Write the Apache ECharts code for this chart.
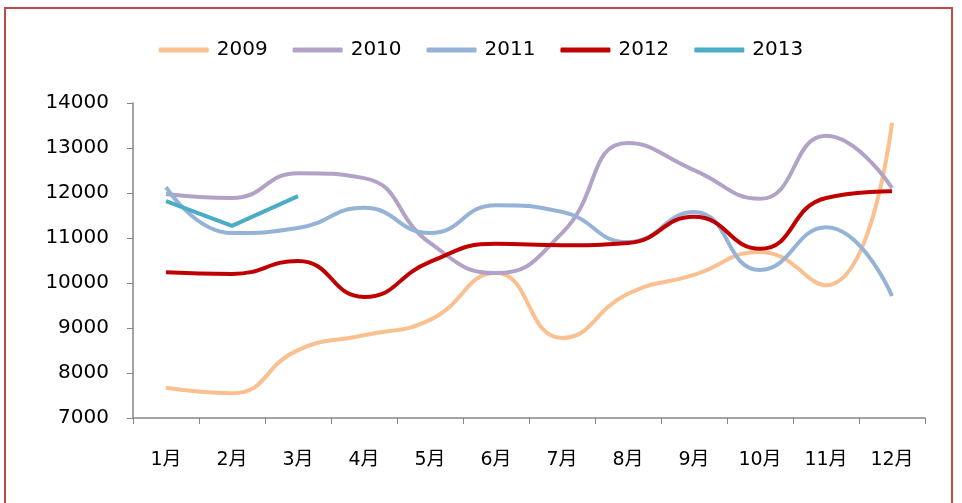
<!DOCTYPE html>
<html>
<head>
<meta charset="utf-8">
<script src="https://cdn.jsdelivr.net/npm/echarts@6/dist/echarts.min.js"></script>
<style>
  html, body { margin: 0; padding: 0; background: #fff; }
  #main { width: 962px; height: 503px; }
</style>
</head>
<body>
<div id="main"></div>
<script>
const months = ['1月', '2月', '3月', '4月', '5月', '6月', '7月', '8月', '9月', '10月', '11月', '12月'];
const years = ['2009', '2010', '2011', '2012', '2013'];
const colors = ['#FAC090', '#B3A2C7', '#95B3D7', '#C00000', '#4BACC6'];

const v2009 = [7670, 7550, 8510, 8840, 9180, 10220, 8780, 9760, 10180, 10690, 9950, 13560];
const v2010 = [11980, 11890, 12440, 12330, 10890, 10220, 11110, 13110, 12510, 11870, 13270, 12110];
const v2011 = [12130, 11110, 11220, 11670, 11110, 11730, 11580, 10910, 11580, 10290, 11240, 9710];
const v2012 = [10240, 10200, 10490, 9690, 10470, 10870, 10840, 10890, 11470, 10760, 11890, 12040];
const v2013 = [11820, 11270, 11930];

const allValues = [v2009, v2010, v2011, v2012, v2013];
const font = 'DejaVu Sans, Noto Sans CJK SC, sans-serif';

const chart = echarts.init(document.getElementById('main'));

const series = years.map((y, i) => ({
    name: y,
    type: 'line',
    data: allValues[i],
    smooth: i < 4 ? 0.5 : false,
    symbol: 'none',
    lineStyle: { width: 4, color: colors[i] },
    itemStyle: { color: colors[i] },
    z: i === 3 ? 5 : 3
}));

chart.setOption({
    animation: false,
    color: colors,
    graphic: [{
        type: 'rect',
        shape: { x: 5, y: 8, width: 947, height: 520 },
        style: { fill: 'none', stroke: '#BE4B48', lineWidth: 2 },
        silent: true
    }],
    legend: {
        top: 35,
        left: 'center',
        icon: 'roundRect',
        itemWidth: 50,
        itemHeight: 5,
        itemGap: 25,
        textStyle: { fontFamily: font, fontSize: 20, color: '#000', padding: [0, 0, 0, 3] },
        data: years
    },
    grid: { left: 133, right: 37, top: 103, bottom: 85 },
    xAxis: {
        type: 'category',
        data: months,
        boundaryGap: true,
        axisLine: { lineStyle: { color: '#868686', width: 1.5 } },
        axisTick: { show: true, length: 6, lineStyle: { color: '#868686' } },
        axisLabel: { fontFamily: font, fontSize: 19, color: '#000', margin: 33 }
    },
    yAxis: {
        type: 'value',
        min: 7000,
        max: 14000,
        interval: 1000,
        axisLine: { show: true, lineStyle: { color: '#868686', width: 1.5 } },
        axisTick: { show: true, length: 6, lineStyle: { color: '#868686' } },
        splitLine: { show: false },
        axisLabel: { fontFamily: font, fontSize: 20, color: '#000', margin: 24, formatter: v => String(v) }
    },
    series: series
});
</script>
</body>
</html>
